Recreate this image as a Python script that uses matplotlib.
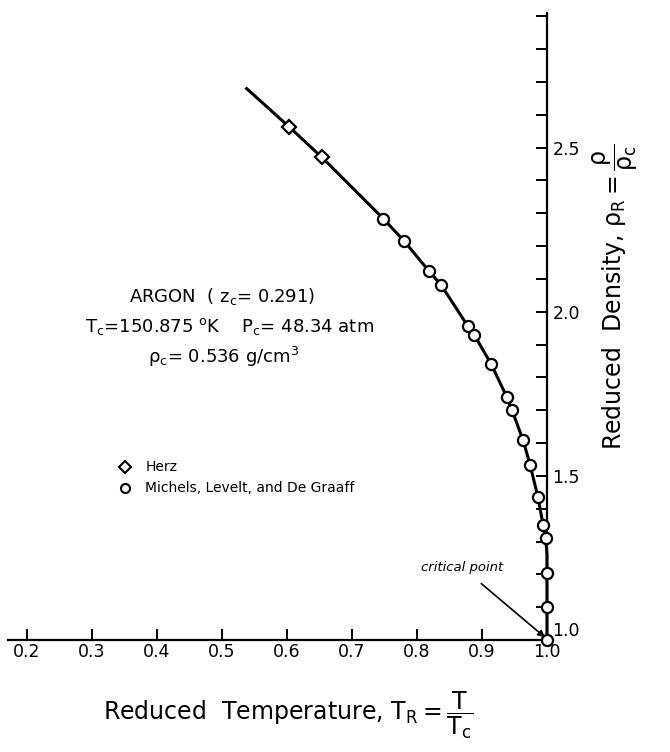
import matplotlib
matplotlib.use("Agg")
import matplotlib.pyplot as plt
from matplotlib.ticker import MultipleLocator, FixedLocator

plt.rcParams['mathtext.default'] = 'regular'

# reduced temperature / reduced density
herz_t = [0.603, 0.654]
herz_rho = [2.564, 2.470]

mlg_t = [0.748, 0.780, 0.818, 0.837, 0.878, 0.888, 0.914, 0.938, 0.946,
         0.963, 0.974, 0.986, 0.994, 0.998, 1.0, 1.0, 1.0]
mlg_rho = [2.284, 2.216, 2.125, 2.082, 1.957, 1.930, 1.841, 1.741, 1.701,
           1.610, 1.534, 1.436, 1.351, 1.311, 1.204, 1.100, 1.0]

# smooth curve through the data
curve_t = [0.538, 0.603, 0.654, 0.748, 0.780, 0.818, 0.837, 0.878, 0.888,
           0.914, 0.938, 0.946, 0.963, 0.974, 0.986, 0.994, 0.998, 1.0, 1.0]
curve_rho = [2.680, 2.564, 2.470, 2.284, 2.216, 2.125, 2.082, 1.957, 1.930,
             1.841, 1.741, 1.701, 1.610, 1.534, 1.436, 1.351, 1.311, 1.26, 1.0]

x_ticks = [0.2, 0.3, 0.4, 0.5, 0.6, 0.7, 0.8, 0.9, 1.0]
y_ticks = [1.0, 1.5, 2.0, 2.5]

fig = plt.figure(figsize=(6.7, 7.52), dpi=100)
ax = fig.add_axes([0.0119, 0.1489, 0.8045, 0.8338])
ax.set_xlim(0.171, 1.0)
ax.set_ylim(1.0, 2.91)

for s in ['left', 'top']:
    ax.spines[s].set_visible(False)
for s in ['right', 'bottom']:
    ax.spines[s].set_linewidth(1.6)

ax.yaxis.tick_right()
ax.xaxis.set_major_locator(FixedLocator(x_ticks))
ax.yaxis.set_major_locator(FixedLocator(y_ticks))
ax.yaxis.set_minor_locator(MultipleLocator(0.1))
ax.set_xticklabels(['%.1f' % t for t in x_ticks])
ax.set_yticklabels(['%.1f' % t for t in y_ticks])
ax.tick_params(axis='both', which='both', direction='in', length=8, width=1.4,
               labelsize=12.5, pad=2)
ax.tick_params(axis='y', which='both', pad=4)
# the 1.0 on the density scale sits just above the temperature axis
ax.get_yticklabels()[0].set_va('bottom')

ax.plot(curve_t, curve_rho, color='black', lw=2.2, clip_on=False, zorder=2)
ax.plot(mlg_t, mlg_rho, 'o', ms=8, mfc='white', mec='black', mew=1.6,
        clip_on=False, zorder=3)
ax.plot(herz_t, herz_rho, 'D', ms=7.5, mfc='white', mec='black', mew=1.6,
        clip_on=False, zorder=3)

ax.text(0.500, 2.046, r'ARGON  ( $z_c$= 0.291)', ha='center', va='center', fontsize=13)
ax.text(0.512, 1.954, r'$T_c$=150.875 $^o$K    $P_c$= 48.34 atm', ha='center',
        va='center', fontsize=13)
ax.text(0.503, 1.863, r'$\rho_c$= 0.536 g/cm$^3$', ha='center', va='center', fontsize=13)

ax.plot([0.351], [1.527], 'D', ms=6, mfc='white', mec='black', mew=1.5)
ax.plot([0.351], [1.463], 'o', ms=6.5, mfc='white', mec='black', mew=1.5)
ax.text(0.382, 1.527, 'Herz', ha='left', va='center', fontsize=10)
ax.text(0.382, 1.463, 'Michels, Levelt, and De Graaff', ha='left', va='center', fontsize=10)

ax.annotate('critical point', xy=(0.997, 1.008), xytext=(0.869, 1.222),
            ha='center', va='center', fontsize=9.5, style='italic',
            arrowprops=dict(arrowstyle='-|>', color='black', lw=1.2,
                            shrinkA=8, shrinkB=0, mutation_scale=10))

fig.text(0.43, 0.049, r'Reduced  Temperature, $T_R = \dfrac{T}{T_c}$',
         ha='center', va='center', fontsize=17)
fig.text(0.918, 0.605, r'Reduced  Density, $\rho_R = \dfrac{\rho}{\rho_c}$',
         ha='center', va='center', rotation=90, fontsize=17)

fig.savefig('out.png', dpi=100)
